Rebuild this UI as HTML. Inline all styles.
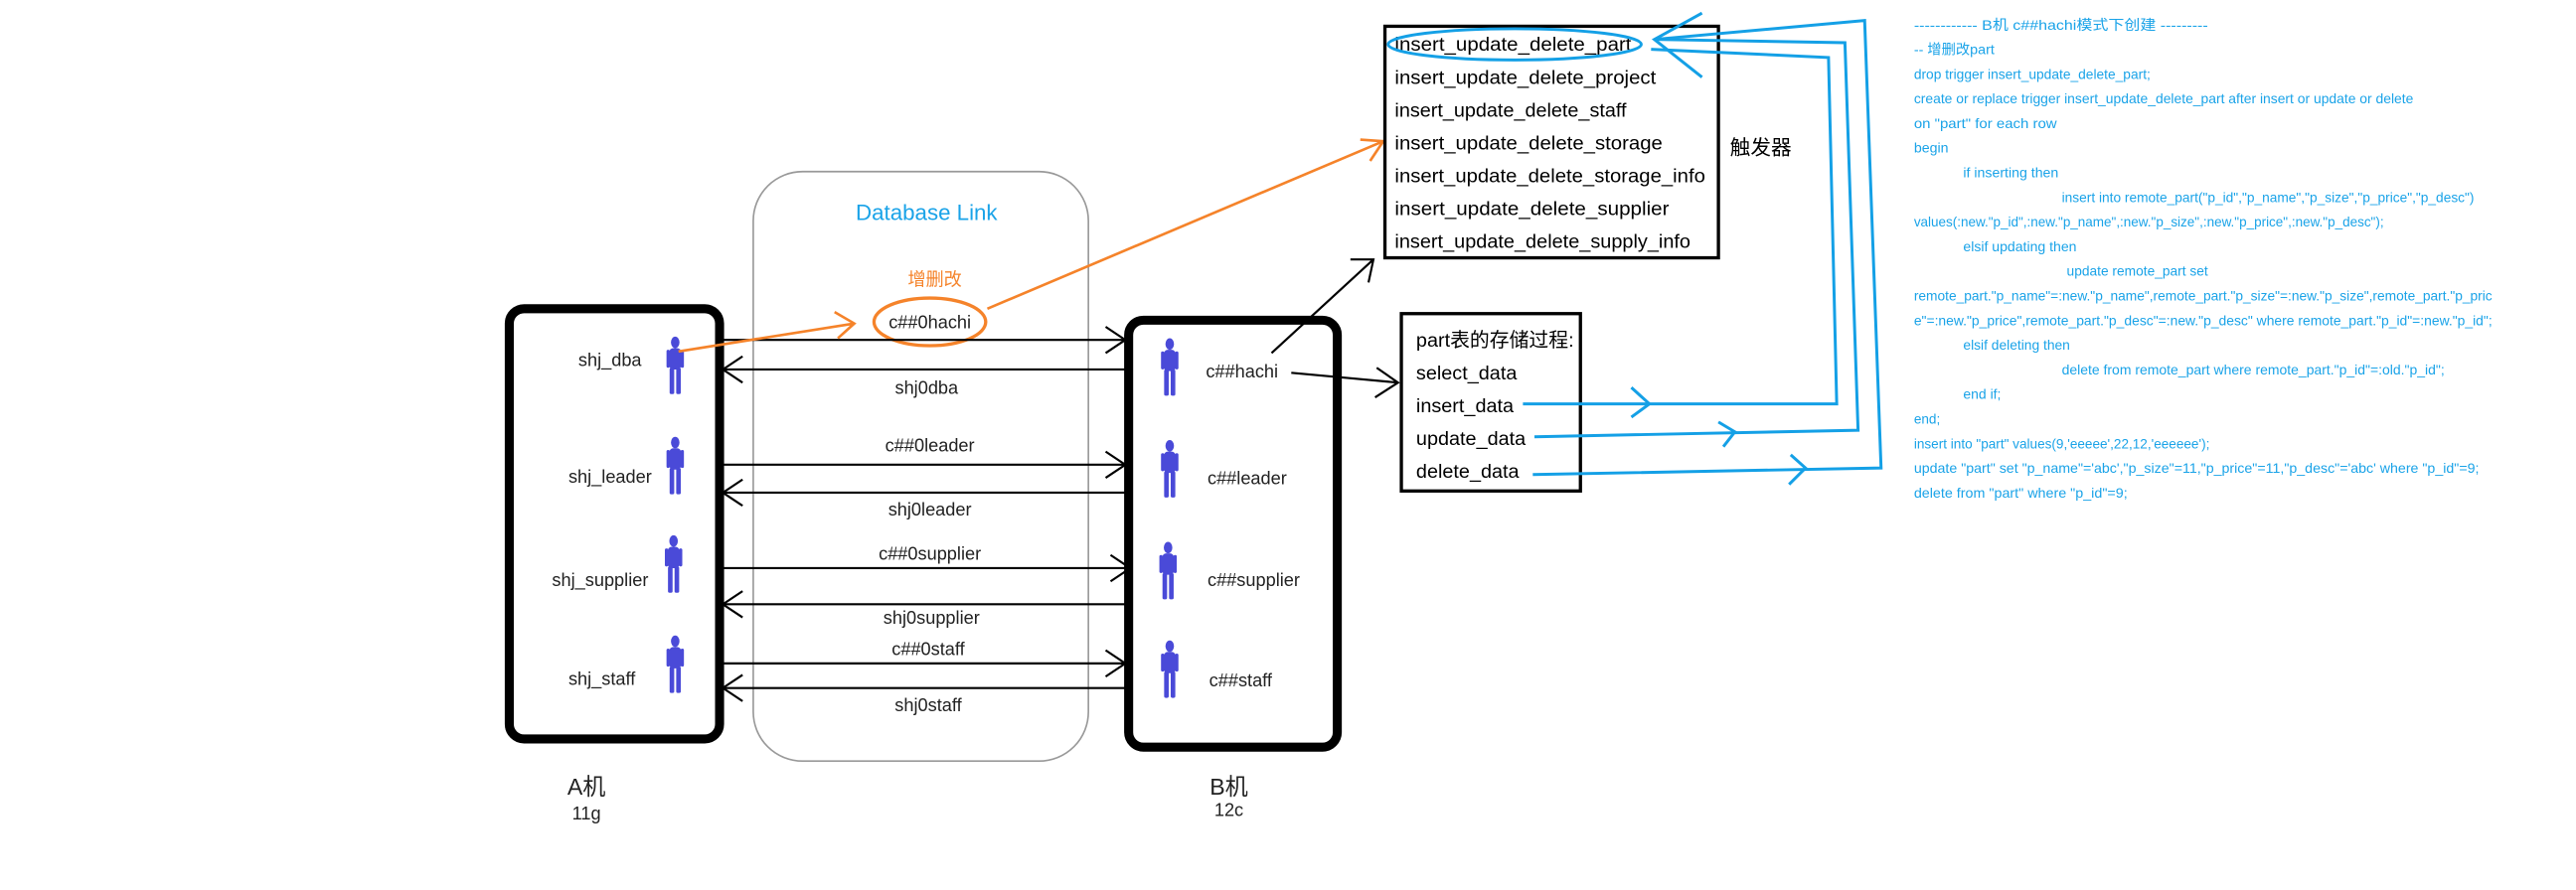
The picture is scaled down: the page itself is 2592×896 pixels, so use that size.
<!DOCTYPE html>
<html><head><meta charset="utf-8"><style>
html,body{margin:0;padding:0;background:#fff;width:2592px;height:896px;overflow:hidden}
svg{display:block}
text{font-family:"Liberation Sans","Noto Sans CJK SC",sans-serif}
</style></head><body>
<svg width="2592" height="896" viewBox="0 0 1568 542" preserveAspectRatio="none" xmlns="http://www.w3.org/2000/svg">
<defs>
<g id="fig" fill="#4a4ad8">
<ellipse cx="0" cy="3.5" rx="2.6" ry="3.5"/>
<rect x="-3.6" y="7" width="7.2" height="13" rx="2.5"/>
<rect x="-5.3" y="8" width="2" height="11" rx="1"/>
<rect x="3.3" y="8" width="2" height="11" rx="1"/>
<rect x="-3.4" y="19" width="2.8" height="16" rx="1"/>
<rect x="0.6" y="19" width="2.8" height="16" rx="1"/>
</g>
</defs>
<rect x="458.5" y="104.5" width="204" height="359" rx="30" fill="none" stroke="#999" stroke-width="1"/>
<text x="564" y="134" font-size="13.5" fill="#1aa3e8" text-anchor="middle">Database Link</text>
<text x="569" y="174" font-size="11" fill="#f5832a" text-anchor="middle">增删改</text>
<ellipse cx="566" cy="196" rx="34" ry="14.5" fill="none" stroke="#f5832a" stroke-width="2"/>
<text x="566" y="200" font-size="11" fill="#222" text-anchor="middle">c##0hachi</text>

<rect x="310" y="188" width="128" height="262" rx="9" fill="none" stroke="#000" stroke-width="5.5"/>
<rect x="687" y="195" width="127" height="260" rx="9" fill="none" stroke="#000" stroke-width="5.5"/>

<g font-size="11" fill="#222">
<text x="352" y="223">shj_dba</text>
<text x="346" y="294">shj_leader</text>
<text x="336" y="357">shj_supplier</text>
<text x="346" y="417">shj_staff</text>
<text x="734" y="230">c##hachi</text>
<text x="735" y="295">c##leader</text>
<text x="735" y="357">c##supplier</text>
<text x="736" y="418">c##staff</text>
<text x="564" y="240" text-anchor="middle">shj0dba</text>
<text x="566" y="275" text-anchor="middle">c##0leader</text>
<text x="566" y="314" text-anchor="middle">shj0leader</text>
<text x="566" y="341" text-anchor="middle">c##0supplier</text>
<text x="567" y="380" text-anchor="middle">shj0supplier</text>
<text x="565" y="399" text-anchor="middle">c##0staff</text>
<text x="565" y="433" text-anchor="middle">shj0staff</text>
<text x="357" y="484" font-size="14" text-anchor="middle">A机</text>
<text x="357" y="499" font-size="11" text-anchor="middle">11g</text>
<text x="748" y="484" font-size="14" text-anchor="middle">B机</text>
<text x="748" y="497" font-size="11" text-anchor="middle">12c</text>
</g>

<use href="#fig" x="411" y="205"/>
<use href="#fig" x="411" y="266"/>
<use href="#fig" x="410" y="326"/>
<use href="#fig" x="411" y="387"/>
<use href="#fig" x="712" y="206"/>
<use href="#fig" x="712" y="268"/>
<use href="#fig" x="711" y="330"/>
<use href="#fig" x="712" y="390"/>

<g stroke="#000" stroke-width="1.3" fill="none">
<path d="M440 207H685M673 199L685 207L673 215"/>
<path d="M440 225H685M452 217L440 225L452 233"/>
<path d="M440 283H685M673 275L685 283L673 291"/>
<path d="M440 300H685M452 292L440 300L452 308"/>
<path d="M440 346H688M676 338L688 346L676 354"/>
<path d="M440 368H685M452 360L440 368L452 376"/>
<path d="M440 404H685M673 396L685 404L673 412"/>
<path d="M440 419H685M452 411L440 419L452 427"/>
<path d="M774 215L836 158M822 158L836 158L833 172"/>
<path d="M786 227L851 233M838 224L851 233L837 242"/>
</g>

<g stroke="#f5832a" stroke-width="1.6" fill="none">
<path d="M413 214L520 197M508 190L520 197L510 206"/>
<path d="M601 188L842 86M828 85L842 86L834 98"/>
</g>

<rect x="843" y="16" width="203" height="141" fill="none" stroke="#000" stroke-width="2"/>
<g font-size="12" fill="#000">
<text x="849" y="31" textLength="144" lengthAdjust="spacingAndGlyphs">insert_update_delete_part</text>
<text x="849" y="51" textLength="159" lengthAdjust="spacingAndGlyphs">insert_update_delete_project</text>
<text x="849" y="71" textLength="141" lengthAdjust="spacingAndGlyphs">insert_update_delete_staff</text>
<text x="849" y="91" textLength="163" lengthAdjust="spacingAndGlyphs">insert_update_delete_storage</text>
<text x="849" y="111" textLength="189" lengthAdjust="spacingAndGlyphs">insert_update_delete_storage_info</text>
<text x="849" y="131" textLength="167" lengthAdjust="spacingAndGlyphs">insert_update_delete_supplier</text>
<text x="849" y="151" textLength="180" lengthAdjust="spacingAndGlyphs">insert_update_delete_supply_info</text>
<text x="1053" y="94" font-size="12.5">触发器</text>
</g>
<ellipse cx="922" cy="27" rx="77" ry="9.5" fill="none" stroke="#14a0e6" stroke-width="1.8"/>

<rect x="853" y="191" width="109" height="108" fill="none" stroke="#000" stroke-width="2"/>
<g font-size="12" fill="#000">
<text x="862" y="211">part表的存储过程:</text>
<text x="862" y="231">select_data</text>
<text x="862" y="251">insert_data</text>
<text x="862" y="271">update_data</text>
<text x="862" y="291">delete_data</text>
</g>

<g stroke="#14a0e6" stroke-width="1.8" fill="none">
<path d="M927 246L1118 246L1113 35L1005 30"/>
<path d="M934 266L1131 262L1123 26L1007 24"/>
<path d="M933 289L1145 285L1135 12.5L1007 24"/>
<path d="M1036 8L1007 24L1036 47"/>
<path d="M993 236L1004 246L993 254"/>
<path d="M1046 257L1056 263L1049 272"/>
<path d="M1090 277L1099 285L1089 295"/>
</g>

<g font-size="8.6" fill="#1aa3e8">
<text x="1165" y="18" textLength="179" lengthAdjust="spacingAndGlyphs">------------   B机 c##hachi模式下创建   ---------</text>
<text x="1165" y="33" textLength="49" lengthAdjust="spacingAndGlyphs">-- 增删改part</text>
<text x="1165" y="48" textLength="144" lengthAdjust="spacingAndGlyphs">drop trigger insert_update_delete_part;</text>
<text x="1165" y="63" textLength="304" lengthAdjust="spacingAndGlyphs">create or replace trigger insert_update_delete_part after insert or update or delete</text>
<text x="1165" y="78" textLength="87" lengthAdjust="spacingAndGlyphs">on  "part" for each row</text>
<text x="1165" y="93" textLength="21" lengthAdjust="spacingAndGlyphs">begin</text>
<text x="1195" y="108" textLength="58" lengthAdjust="spacingAndGlyphs">if inserting then</text>
<text x="1255" y="123" textLength="251" lengthAdjust="spacingAndGlyphs">insert into remote_part("p_id","p_name","p_size","p_price","p_desc")</text>
<text x="1165" y="138" textLength="286" lengthAdjust="spacingAndGlyphs">values(:new."p_id",:new."p_name",:new."p_size",:new."p_price",:new."p_desc");</text>
<text x="1195" y="153" textLength="69" lengthAdjust="spacingAndGlyphs">elsif updating then</text>
<text x="1258" y="168" textLength="86" lengthAdjust="spacingAndGlyphs">update remote_part set</text>
<text x="1165" y="183" textLength="352" lengthAdjust="spacingAndGlyphs">remote_part."p_name"=:new."p_name",remote_part."p_size"=:new."p_size",remote_part."p_pric</text>
<text x="1165" y="198" textLength="352" lengthAdjust="spacingAndGlyphs">e"=:new."p_price",remote_part."p_desc"=:new."p_desc" where remote_part."p_id"=:new."p_id";</text>
<text x="1195" y="213" textLength="65" lengthAdjust="spacingAndGlyphs">elsif deleting then</text>
<text x="1255" y="228" textLength="233" lengthAdjust="spacingAndGlyphs">delete from remote_part where remote_part."p_id"=:old."p_id";</text>
<text x="1195" y="243" textLength="23" lengthAdjust="spacingAndGlyphs">end if;</text>
<text x="1165" y="258" textLength="16" lengthAdjust="spacingAndGlyphs">end;</text>
<text x="1165" y="273" textLength="180" lengthAdjust="spacingAndGlyphs">insert into "part" values(9,'eeeee',22,12,'eeeeee');</text>
<text x="1165" y="288" textLength="344" lengthAdjust="spacingAndGlyphs">update "part" set "p_name"='abc',"p_size"=11,"p_price"=11,"p_desc"='abc' where "p_id"=9;</text>
<text x="1165" y="303" textLength="130" lengthAdjust="spacingAndGlyphs">delete from "part" where "p_id"=9;</text>
</g>
</svg>
</body></html>
